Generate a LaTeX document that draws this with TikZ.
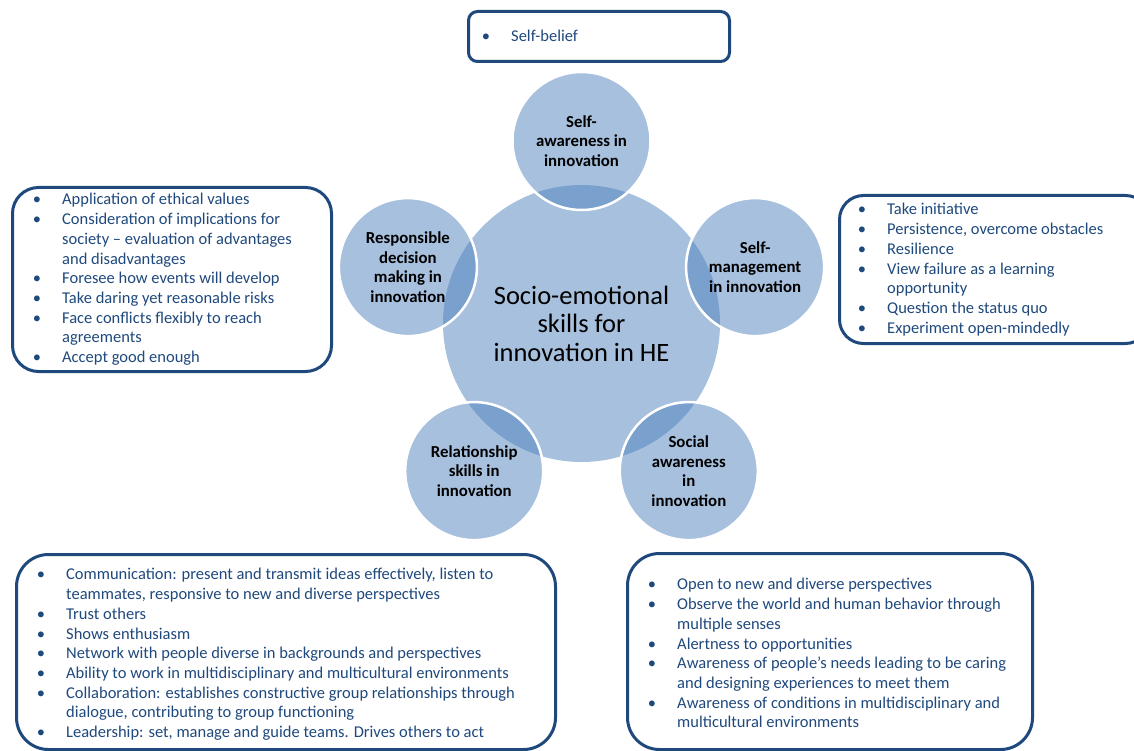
\documentclass[tikz,border=0pt]{standalone}
\usepackage{fontspec}
\setmainfont{Carlito}
\definecolor{accent}{HTML}{4F81BD}
\definecolor{navy}{HTML}{1F497D}
\newcommand\bi{\llap{•\hspace{21pt}}}
\begin{document}
\begin{tikzpicture}[x=1pt,y=-1pt,
  hub/.style={circle, inner sep=0pt, minimum size=277pt, fill=accent, fill opacity=0.5, text opacity=1,
    font=\fontsize{26.5}{28.5}\selectfont, align=center, text=black},
  sat/.style={circle, inner sep=0pt, minimum size=138pt, fill=accent, fill opacity=0.5, text opacity=1,
    draw=white, draw opacity=1, line width=2.5pt,
    font=\bfseries\fontsize{16.8}{19.6}\selectfont, align=center, text=black},
  frame/.style={draw=navy, line width=3pt, fill=white, inner sep=0pt, anchor=north west},
  list/.style={inner sep=0pt, anchor=north west, align=left, text=navy,
    font=\fontsize{16.5}{19.7}\selectfont},
]
\useasboundingbox (0,0) rectangle (1134,751);

% frames of the item lists
\node[frame, rounded corners=9pt, minimum width=261pt, minimum height=50pt] (fSB) at (467,10) {};
\node[frame, rounded corners=26pt, minimum width=319pt, minimum height=184pt] (fRD) at (11,186) {};
\node[frame, rounded corners=24pt, minimum width=310pt, minimum height=148pt] (fSM) at (838,194) {};
\node[frame, rounded corners=32pt, minimum width=539pt, minimum height=195pt] (fRS) at (15,553) {};
\node[frame, rounded corners=32pt, minimum width=405pt, minimum height=196pt] (fSA) at (626,552) {};

% central circle and its five satellites
\node[hub] (hub) at (581.5,323.5) {Socio-emotional\\skills for\\innovation in HE};
\node[sat] (selfaw) at (581.5,141) {Self-\\awareness in\\innovation};
\node[sat] (selfmg) at (755.1,267.1) {Self-\\management\\in innovation};
\node[sat] (social) at (688.8,471.1) {Social\\awareness\\in\\innovation};
\node[sat] (relat) at (474.2,471.1) {Relationship\\skills in\\innovation};
\node[sat] (resp) at (407.9,267.1) {Responsible\\decision\\making in\\innovation};

% item lists
\node[list] (tSB) at (511,28) {\strut\bi Self-belief};
\node[list] (tRD) at (62,191) {\strut\bi Application of ethical values\\
\bi Consideration of implications for\\
society – evaluation of advantages\\
and disadvantages\\
\bi Foresee how events will develop\\
\bi Take daring yet reasonable risks\\
\bi Face conflicts flexibly to reach\\
agreements\\
\bi Accept good enough};
\node[list] (tSM) at (887,201) {\strut\bi Take initiative\\
\bi Persistence, overcome obstacles\\
\bi Resilience\\
\bi View failure as a learning\\
opportunity\\
\bi Question the status quo\\
\bi Experiment open-mindedly};
\node[list] (tRS) at (66,566) {\strut\bi Communication: present and transmit ideas effectively, listen to\\
teammates, responsive to new and diverse perspectives\\
\bi Trust others\\
\bi Shows enthusiasm\\
\bi Network with people diverse in backgrounds and perspectives\\
\bi Ability to work in multidisciplinary and multicultural environments\\
\bi Collaboration: establishes constructive group relationships through\\
dialogue, contributing to group functioning\\
\bi Leadership: set, manage and guide teams. Drives others to act};
\node[list] (tSA) at (677,576) {\strut\bi Open to new and diverse perspectives\\
\bi Observe the world and human behavior through\\
multiple senses\\
\bi Alertness to opportunities\\
\bi Awareness of people’s needs leading to be caring\\
and designing experiences to meet them\\
\bi Awareness of conditions in multidisciplinary and\\
multicultural environments};
\end{tikzpicture}
\end{document}
